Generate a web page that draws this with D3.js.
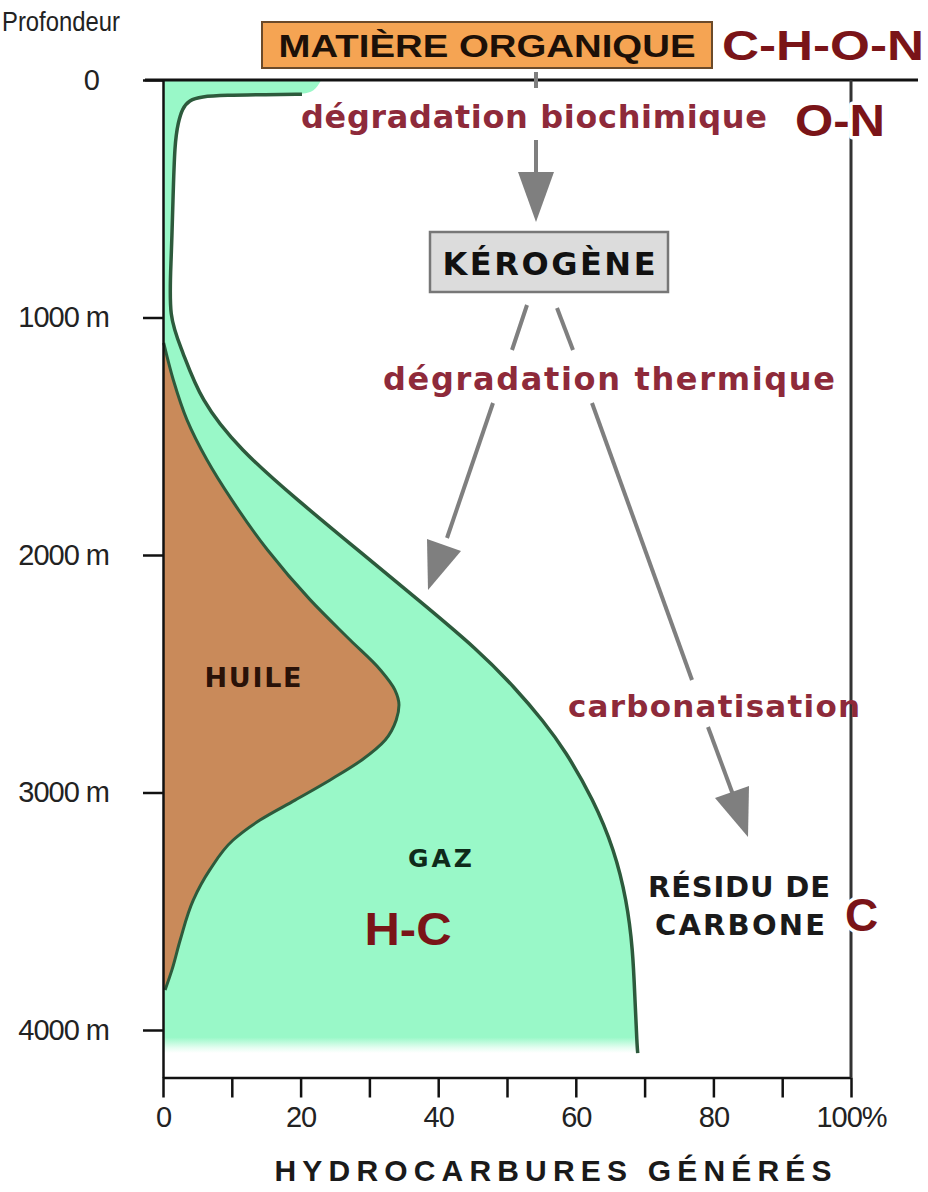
<!DOCTYPE html>
<html>
<head>
<meta charset="utf-8">
<script src="https://cdn.jsdelivr.net/npm/d3@7"></script>
<style>
  body { margin: 0; background: #fff; }
  svg { display: block; font-family: "Liberation Sans", Arial, sans-serif; }
  .axis path, .axis line { stroke: #111; stroke-width: 2.5px; }
  .axis text { font-size: 29px; fill: #222; letter-spacing: -1px; }
  .arrow { stroke: #7f7f7f; stroke-width: 4px; fill: none; }
  .halo { paint-order: stroke; stroke: #fff; stroke-width: 7px; stroke-linejoin: round; }
  .wide { font-family: "DejaVu Sans", Verdana, sans-serif; }
</style>
</head>
<body>
<script>

var width = 928,
    height = 1192;

// depth ticks (m) and percent ticks
var depthTicks = [0, 1000, 2000, 3000, 4000];
var pctTicks = [0, 10, 20, 30, 40, 50, 60, 70, 80, 90, 100];

// total hydrocarbons generated (outer curve), % vs depth in m
var gasDepth = [0, 50, 60, 62, 64, 70, 85, 120, 180, 265, 505, 758, 1002, 1137, 1347, 1558, 1768,
                1979, 2189, 2400, 2560, 2700, 2821, 3032, 3242, 3453, 3663, 3874, 4063, 4097];
var gasValue = [23, 22, 20.2, 15, 9, 5.5, 3.8, 2.8, 2.2, 1.7, 1.45, 1.2, 0.8, 2.8, 5.4, 11.2, 19.5,
                28.3, 37.1, 45.8, 51.2, 55.3, 58.4, 62.6, 65.6, 67.4, 68.3, 68.6, 68.9, 69.0];

// oil window (huile)
var oilDepth = [1107, 1263, 1432, 1600, 1768, 1979, 2189, 2358, 2484, 2568, 2632, 2695, 2779,
                2863, 2947, 3032, 3116, 3200, 3326, 3453, 3621, 3747, 3832];
var oilValue = [0.1, 1.5, 3.5, 6.4, 10.0, 15.2, 21.4, 27.2, 31.6, 33.7, 34.3, 33.9, 32.3,
                28.9, 24.3, 19.2, 14.1, 10.2, 6.8, 4.4, 2.5, 1.3, 0.3];

var gas = gasDepth.map(function(d, i) { return { depth: d, value: gasValue[i] }; });
var oil = oilDepth.map(function(d, i) { return { depth: d, value: oilValue[i] }; });

var x = d3.scaleLinear().domain([0, 100]).range([163, 851]);
var y = d3.scaleLinear().domain([0, 4200]).range([80, 1077.5]);

var svg = d3.select("body").append("svg")
    .attr("width", width)
    .attr("height", height);

// soft bottom edge of the gas fill
var grad = svg.append("defs").append("linearGradient")
    .attr("id", "gasFade")
    .attr("gradientUnits", "userSpaceOnUse")
    .attr("x1", 0).attr("x2", 0)
    .attr("y1", y(3950)).attr("y2", y(4097));
grad.append("stop").attr("offset", 0).attr("stop-color", "#99f8c8");
grad.append("stop").attr("offset", 0.55).attr("stop-color", "#99f8c8");
grad.append("stop").attr("offset", 0.85).attr("stop-color", "#99f8c8").attr("stop-opacity", 0.25);
grad.append("stop").attr("offset", 1).attr("stop-color", "#99f8c8").attr("stop-opacity", 0);

var area = function(curve) {
  return d3.area()
    .curve(curve)
    .y(function(d) { return y(d.depth); })
    .x0(x(0))
    .x1(function(d) { return x(d.value); });
};

var line = function(curve) {
  return d3.line()
    .curve(curve)
    .y(function(d) { return y(d.depth); })
    .x(function(d) { return x(d.value); });
};

// fills
svg.append("path")
    .datum(gas)
    .attr("d", area(d3.curveBasis))
    .attr("fill", "url(#gasFade)");

svg.append("path")
    .datum(oil)
    .attr("d", area(d3.curveMonotoneY))
    .attr("fill", "#c98a5a");

// curves
svg.append("path")
    .datum(oil)
    .attr("d", line(d3.curveMonotoneY))
    .attr("fill", "none")
    .attr("stroke", "#2d5a3c")
    .attr("stroke-width", 3);

svg.append("path")
    .datum(gas.slice(2))
    .attr("d", line(d3.curveBasis))
    .attr("fill", "none")
    .attr("stroke", "#2d5a3c")
    .attr("stroke-width", 3.5);

// axes
svg.append("g")
    .attr("class", "axis")
    .attr("transform", "translate(" + x(0) + ",0)")
    .call(d3.axisLeft(y).tickValues(depthTicks).tickSize(20).tickSizeOuter(0).tickPadding(34)
        .tickFormat(function(d) { return d === 0 ? "0" : d + " m"; }))
  .call(function(g) {
    g.selectAll(".tick text").filter(function(d) { return d === 0; }).attr("dx", -10);
  });

svg.append("g")
    .attr("class", "axis")
    .attr("transform", "translate(0," + y(4200) + ")")
    .call(d3.axisBottom(x).tickValues(pctTicks).tickSize(20).tickSizeOuter(0).tickPadding(9)
        .tickFormat(function(d) { return d % 20 ? "" : (d === 100 ? "100%" : d); }));

// frame: top line and right line
svg.append("line")
    .attr("x1", 145).attr("x2", 918)
    .attr("y1", y(0)).attr("y2", y(0))
    .attr("stroke", "#111").attr("stroke-width", 3);

svg.append("line")
    .attr("x1", x(100)).attr("x2", x(100))
    .attr("y1", y(0)).attr("y2", y(4200))
    .attr("stroke", "#333").attr("stroke-width", 3);

// boxes
svg.append("rect")
    .attr("x", 262).attr("y", 22).attr("width", 450).attr("height", 46)
    .attr("fill", "#f5a453").attr("stroke", "#6b4a2a").attr("stroke-width", 2);

svg.append("rect")
    .attr("x", 430).attr("y", 232).attr("width", 238).attr("height", 60)
    .attr("fill", "#dcdcdc").attr("stroke", "#777").attr("stroke-width", 2.5);

// arrows: shaft segments and heads
var segments = [
  [536, 72, 536, 88],
  [536, 140, 536, 180],
  [527, 305, 512, 350],
  [493, 403, 447, 538],
  [557, 308, 573, 350],
  [592, 403, 692, 680],
  [708, 727, 735, 800]
];
svg.selectAll("line.arrow")
    .data(segments)
  .enter().append("line")
    .attr("class", "arrow")
    .attr("x1", function(s) { return s[0]; })
    .attr("y1", function(s) { return s[1]; })
    .attr("x2", function(s) { return s[2]; })
    .attr("y2", function(s) { return s[3]; });

var heads = [
  [[518, 172], [554, 172], [536, 222]],
  [[427, 539], [461, 551], [428, 590]],
  [[715, 798], [749, 786], [748, 837]]
];
svg.selectAll("path.head")
    .data(heads)
  .enter().append("path")
    .attr("class", "head")
    .attr("d", function(h) { return "M" + h.join("L") + "Z"; })
    .attr("fill", "#7f7f7f");

// texts
var texts = [
  { t: "Profondeur", x: 2, y: 31, size: 28, fill: "#222", anchor: "start", len: 118, adj: "spacingAndGlyphs", normal: true },
  { t: "MATIÈRE ORGANIQUE", x: 487, y: 57, size: 31, fill: "#1c1008", anchor: "middle", len: 417, adj: "spacingAndGlyphs" },
  { t: "C-H-O-N", x: 722, y: 60, size: 42, fill: "#7a1418", anchor: "start", len: 202, adj: "spacingAndGlyphs" },
  { t: "dégradation biochimique", x: 534, y: 128, size: 32, fill: "#8e2a3a", anchor: "middle", len: 466, halo: true, wide: true },
  { t: "O-N", x: 795, y: 136, size: 44, fill: "#7a1418", anchor: "start", len: 90, adj: "spacingAndGlyphs", halo: true },
  { t: "KÉROGÈNE", x: 549, y: 275, size: 32, fill: "#111", anchor: "middle", len: 213, wide: true },
  { t: "dégradation thermique", x: 609, y: 390, size: 32, fill: "#8e2a3a", anchor: "middle", len: 452, wide: true },
  { t: "carbonatisation", x: 714, y: 717, size: 31, fill: "#8e2a3a", anchor: "middle", len: 292, wide: true },
  { t: "HUILE", x: 253, y: 687, size: 27, fill: "#2a1208", anchor: "middle", len: 97, wide: true },
  { t: "GAZ", x: 440, y: 867, size: 25, fill: "#0f2a1a", anchor: "middle", len: 64, wide: true },
  { t: "H-C", x: 408, y: 945, size: 46, fill: "#7a1418", anchor: "middle", len: 87, adj: "spacingAndGlyphs" },
  { t: "RÉSIDU DE", x: 739, y: 897, size: 29, fill: "#1a1a1a", anchor: "middle", len: 182, wide: true },
  { t: "CARBONE", x: 740, y: 935, size: 29, fill: "#1a1a1a", anchor: "middle", len: 170, wide: true },
  { t: "C", x: 845, y: 931, size: 46, fill: "#7a1418", anchor: "start", halo: true },
  { t: "HYDROCARBURES GÉNÉRÉS", x: 553, y: 1181, size: 30, fill: "#1a1a1a", anchor: "middle", len: 557 }
];

svg.selectAll("text.label")
    .data(texts)
  .enter().append("text")
    .attr("class", function(d) { return "label" + (d.halo ? " halo" : "") + (d.wide ? " wide" : ""); })
    .attr("x", function(d) { return d.x; })
    .attr("y", function(d) { return d.y; })
    .attr("font-size", function(d) { return d.size; })
    .attr("font-weight", function(d) { return d.normal ? "normal" : "bold"; })
    .attr("fill", function(d) { return d.fill; })
    .attr("text-anchor", function(d) { return d.anchor; })
    .attr("textLength", function(d) { return d.len || null; })
    .attr("lengthAdjust", function(d) { return d.len ? (d.adj || "spacing") : null; })
    .text(function(d) { return d.t; });

</script>
</body>
</html>
